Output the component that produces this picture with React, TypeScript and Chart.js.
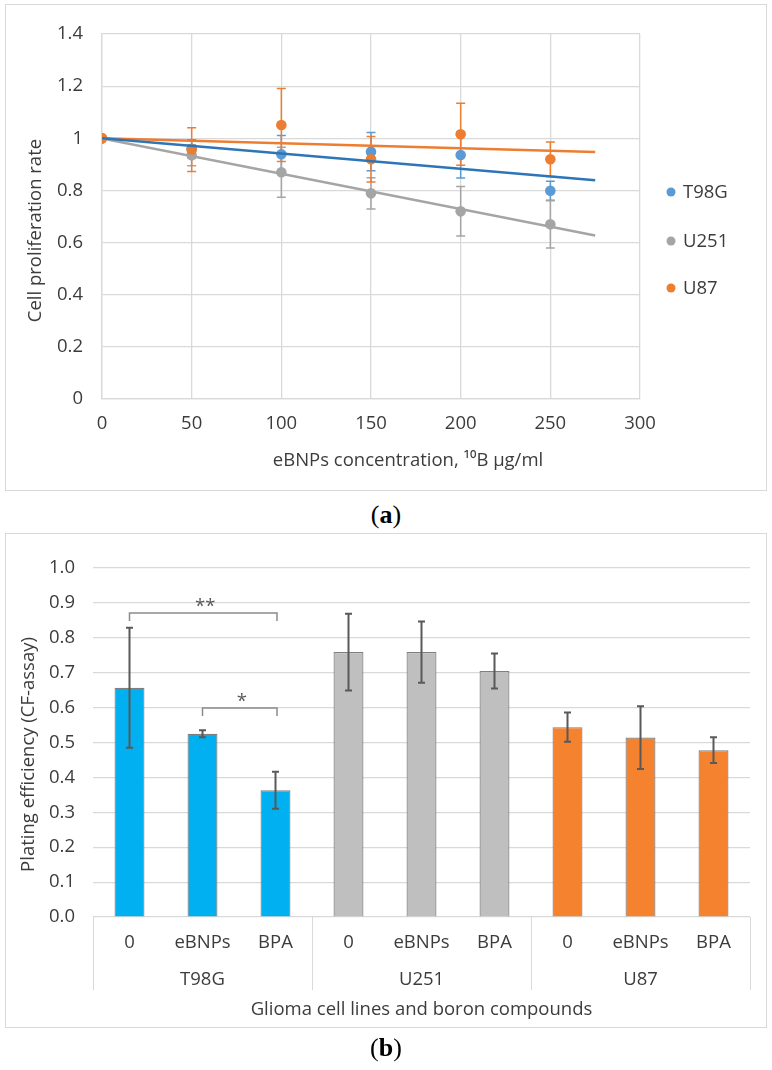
import React, { useEffect, useRef } from 'react';
import { Chart, registerables } from 'chart.js';

Chart.register(...registerables);

// ---------- Data: chart (a) ----------
const concentrations = [0, 50, 100, 150, 200, 250];
const cellLineNames = ['T98G', 'U251', 'U87'];
const t98gRate = [1.0, 0.96, 0.939, 0.949, 0.936, 0.799];
const u251Rate = [1.0, 0.935, 0.87, 0.789, 0.72, 0.67];
const u87Rate = [1.0, 0.957, 1.051, 0.92, 1.016, 0.92];
const t98gSd = [0, 0.035, 0.072, 0.073, 0.088, 0.036];
const u251Sd = [0, 0.04, 0.096, 0.06, 0.095, 0.091];
const u87Sd = [0, 0.084, 0.14, 0.087, 0.119, 0.066];
const trendX = [0, 275];
const t98gTrend = [1.0, 0.839];
const u251Trend = [1.0, 0.627];
const u87Trend = [1.0, 0.948];
const titleA_x = 'eBNPs concentration, ¹⁰B µg/ml';
const titleA_y = 'Cell proliferation rate';

// ---------- Data: chart (b) ----------
const treatments = ['0', 'eBNPs', 'BPA', '0', 'eBNPs', 'BPA', '0', 'eBNPs', 'BPA'];
const platingEfficiency = [0.657, 0.525, 0.363, 0.759, 0.759, 0.705, 0.544, 0.514, 0.478];
const platingSd = [0.172, 0.01, 0.053, 0.11, 0.088, 0.05, 0.042, 0.09, 0.037];
const significanceFrom = [0, 1];
const significanceTo = [2, 2];
const significanceLevel = [0.871, 0.599];
const significanceLabel = ['**', '*'];
const titleB_x = 'Glioma cell lines and boron compounds';
const titleB_y = 'Plating efficiency (CF-assay)';

// ---------- Styles ----------
const FONT = "'Open Sans', 'DejaVu Sans', sans-serif";
const TEXT = '#3C3C3C';
const GRID = '#D9D9D9';
const POINT_COLORS = ['#5B9BD5', '#A5A5A5', '#ED7D31'];
const TREND_COLORS = ['#2E75B6', '#A5A5A5', '#ED7D31'];
const BAR_COLORS = ['#00B0F0', '#BFBFBF', '#F5822F'];
const FS = 18.5;

Chart.defaults.font.family = FONT;
Chart.defaults.font.size = FS;
Chart.defaults.color = TEXT;

const rates = [t98gRate, u251Rate, u87Rate];
const sds = [t98gSd, u251Sd, u87Sd];
const trends = [t98gTrend, u251Trend, u87Trend];

const yTitle = (id: string, text: string, x: number, shift: number) => ({
  id,
  afterDraw(chart: any) {
    const { ctx, chartArea } = chart;
    ctx.save();
    ctx.font = `${FS}px ${FONT}`;
    ctx.fillStyle = TEXT;
    ctx.textAlign = 'center';
    ctx.textBaseline = 'middle';
    ctx.translate(x, (chartArea.top + chartArea.bottom) / 2 + shift);
    ctx.rotate(-Math.PI / 2);
    ctx.fillText(text, 0, 0);
    ctx.restore();
  },
});

const xTitleA = {
  id: 'xTitleA',
  afterDraw(chart: any) {
    const { ctx, chartArea } = chart;
    ctx.save();
    ctx.font = `${FS}px ${FONT}`;
    ctx.fillStyle = TEXT;
    ctx.textAlign = 'center';
    ctx.textBaseline = 'middle';
    ctx.fillText(titleA_x, (chartArea.left + chartArea.right) / 2 + 37, chartArea.bottom + 62);
    ctx.restore();
  },
};

const errorBarsA = {
  id: 'errorBarsA',
  beforeDatasetsDraw(chart: any) {
    const { ctx, scales } = chart;
    const xs = scales.x, ys = scales.y;
    ctx.save();
    ctx.lineWidth = 1.5;
    rates.forEach((r, i) => {
      ctx.strokeStyle = POINT_COLORS[i];
      concentrations.forEach((c, j) => {
        const e = sds[i][j];
        if (!e) return;
        const x = xs.getPixelForValue(c);
        const yt = ys.getPixelForValue(r[j] + e);
        const yb = ys.getPixelForValue(r[j] - e);
        ctx.beginPath();
        ctx.moveTo(x, yt); ctx.lineTo(x, yb);
        ctx.moveTo(x - 4.5, yt); ctx.lineTo(x + 4.5, yt);
        ctx.moveTo(x - 4.5, yb); ctx.lineTo(x + 4.5, yb);
        ctx.stroke();
      });
    });
    ctx.restore();
  },
};

const legendA = {
  id: 'legendA',
  afterDraw(chart: any) {
    const { ctx } = chart;
    ctx.save();
    ctx.font = `${FS}px ${FONT}`;
    ctx.textBaseline = 'middle';
    ctx.textAlign = 'left';
    const ys = [188, 237, 284];
    cellLineNames.forEach((n, i) => {
      ctx.fillStyle = POINT_COLORS[i];
      ctx.beginPath();
      ctx.arc(666, ys[i], 4.5, 0, Math.PI * 2);
      ctx.fill();
      ctx.fillStyle = TEXT;
      ctx.fillText(n, 678, ys[i] + 1);
    });
    ctx.restore();
  },
};

const errorBarsB = {
  id: 'errorBarsB',
  afterDatasetsDraw(chart: any) {
    const { ctx, scales } = chart;
    const meta = chart.getDatasetMeta(0);
    ctx.save();
    ctx.strokeStyle = '#595959';
    ctx.lineWidth = 2;
    platingEfficiency.forEach((v, i) => {
      const x = meta.data[i].x;
      const yt = scales.y.getPixelForValue(v + platingSd[i]);
      const yb = scales.y.getPixelForValue(v - platingSd[i]);
      ctx.beginPath();
      ctx.moveTo(x, yt); ctx.lineTo(x, yb);
      ctx.moveTo(x - 3.5, yt); ctx.lineTo(x + 3.5, yt);
      ctx.moveTo(x - 3.5, yb); ctx.lineTo(x + 3.5, yb);
      ctx.stroke();
    });
    // significance brackets
    ctx.strokeStyle = '#8C8C8C';
    ctx.lineWidth = 1.5;
    ctx.fillStyle = '#595959';
    ctx.font = `${FS}px ${FONT}`;
    ctx.textAlign = 'center';
    ctx.textBaseline = 'alphabetic';
    significanceFrom.forEach((a, k) => {
      const b = significanceTo[k];
      const x1 = meta.data[a].x;
      const x2 = meta.data[b].x + 1.5;
      const y = scales.y.getPixelForValue(significanceLevel[k]);
      ctx.beginPath();
      ctx.moveTo(x1, y + 8); ctx.lineTo(x1, y); ctx.lineTo(x2, y); ctx.lineTo(x2, y + 8);
      ctx.stroke();
      ctx.fillText(significanceLabel[k], (x1 + x2) / 2 + 2, y - 1);
    });
    ctx.restore();
  },
};

const separatorsB = {
  id: 'separatorsB',
  afterDraw(chart: any) {
    const { ctx, scales, chartArea } = chart;
    const xs = scales.x;
    const x2 = scales.x2;
    const n = treatments.length;
    const step = (xs.right - xs.left) / n;
    ctx.save();
    ctx.strokeStyle = GRID;
    ctx.lineWidth = 1;
    for (let i = 0; i <= n; i += 3) {
      const x = Math.round(xs.left + i * step) + 0.5;
      ctx.beginPath();
      ctx.moveTo(x, chartArea.bottom);
      ctx.lineTo(x, x2.top + 23);
      ctx.stroke();
    }
    ctx.restore();
  },
};

export default function App() {
  const refA = useRef<HTMLCanvasElement>(null);
  const refB = useRef<HTMLCanvasElement>(null);

  useEffect(() => {
    const chartA = new Chart(refA.current as HTMLCanvasElement, {
      type: 'scatter',
      data: {
        datasets: [
          ...rates.map((r, i) => ({
            type: 'scatter',
            label: cellLineNames[i],
            data: concentrations.map((x, j) => ({ x, y: r[j] })),
            backgroundColor: POINT_COLORS[i],
            borderColor: POINT_COLORS[i],
            pointRadius: 5.3,
            pointBorderWidth: 0,
            order: 4 - i,
          })),
          ...trends.map((t, i) => ({
            type: 'line',
            label: cellLineNames[i] + ' trend',
            data: trendX.map((x, j) => ({ x, y: t[j] })),
            borderColor: TREND_COLORS[i],
            backgroundColor: TREND_COLORS[i],
            borderWidth: 2.5,
            pointRadius: 0,
            fill: false,
            showLine: true,
            order: 0,
          })),
        ],
      } as any,
      options: {
        responsive: false,
        animation: false,
        layout: { padding: { left: 0, right: 127, top: 21, bottom: 10 } },
        plugins: { legend: { display: false }, tooltip: { enabled: false } },
        scales: {
          x: {
            type: 'linear',
            min: 0,
            max: 300,
            ticks: { stepSize: 50, padding: 13.9, color: TEXT },
            grid: { color: GRID, lineWidth: 1.3, drawTicks: false },
            border: { color: GRID, width: 1.3 },
            title: { display: false },
            afterFit: (s: any) => { s.height = 82; },
          },
          y: {
            type: 'linear',
            min: 0,
            max: 1.4,
            ticks: {
              stepSize: 0.2,
              padding: 19,
              color: TEXT,
              callback: (v: any) => String(Number(Number(v).toFixed(1))),
            },
            grid: { color: GRID, lineWidth: 1.3, drawTicks: false },
            border: { color: GRID, width: 1.3 },
            title: { display: false },
            afterFit: (s: any) => { s.width = 97; },
          },
        },
      } as any,
      plugins: [errorBarsA, legendA, xTitleA, yTitle('yTitleA', titleA_y, 31, 14)],
    });

    const chartB = new Chart(refB.current as HTMLCanvasElement, {
      type: 'bar',
      data: {
        labels: treatments,
        datasets: [
          {
            label: 'Plating efficiency',
            data: platingEfficiency,
            backgroundColor: treatments.map((_, i) => BAR_COLORS[Math.floor(i / 3)]),
            borderColor: '#7F7F7F',
            borderWidth: 1.2,
            barPercentage: 0.41,
            categoryPercentage: 1,
          },
        ],
      },
      options: {
        responsive: false,
        animation: false,
        layout: { padding: { left: 0, right: 17, top: 35, bottom: 4 } },
        plugins: { legend: { display: false }, tooltip: { enabled: false } },
        scales: {
          x: {
            type: 'category',
            offset: true,
            grid: { display: false, drawTicks: false },
            border: { display: false },
            ticks: { padding: 14.2, autoSkip: false, maxRotation: 0, color: TEXT },
            afterFit: (s: any) => { s.height = 50; },
          },
          x2: {
            type: 'category',
            labels: cellLineNames,
            position: 'bottom',
            weight: 1,
            offset: true,
            grid: { display: false, drawTicks: false },
            border: { display: false },
            ticks: { padding: 1.2, autoSkip: false, maxRotation: 0, color: TEXT },
            title: {
              display: true,
              text: titleB_x,
              color: TEXT,
              padding: { top: 0, bottom: 2.9 },
            },
            afterFit: (s: any) => { s.height = 57; },
          },
          y: {
            type: 'linear',
            min: 0,
            max: 1,
            ticks: {
              stepSize: 0.1,
              padding: 18,
              color: TEXT,
              callback: (v: any) => Number(v).toFixed(1),
            },
            grid: { color: GRID, lineWidth: 1.2, drawTicks: false },
            border: { display: false },
            title: { display: false },
            afterFit: (s: any) => { s.width = 88; },
          },
        },
      } as any,
      plugins: [errorBarsB, separatorsB, yTitle('yTitleB', titleB_y, 24, 12)],
    });

    return () => {
      chartA.destroy();
      chartB.destroy();
    };
  }, []);

  const caption: React.CSSProperties = {
    position: 'absolute',
    left: 0,
    width: 772,
    textAlign: 'center',
    fontFamily: "'Liberation Serif', 'DejaVu Serif', serif",
    fontSize: 26,
    lineHeight: '30px',
    color: '#000',
  };

  return (
    <div style={{ position: 'absolute', left: 0, top: 0, width: 772, height: 1070, background: '#fff' }}>
      <div style={{ position: 'absolute', left: 5, top: 4, width: 762, height: 487 }}>
        <canvas ref={refA} width={762} height={487} style={{ display: 'block' }} />
      </div>
      <div
        style={{
          position: 'absolute', left: 5, top: 4, width: 762, height: 487,
          border: '1.5px solid #D9D9D9', boxSizing: 'border-box', pointerEvents: 'none',
        }}
      />
      <div style={{ ...caption, top: 500 }}>
        (<b>a</b>)
      </div>
      <div style={{ position: 'absolute', left: 5, top: 533, width: 762, height: 495 }}>
        <canvas ref={refB} width={762} height={495} style={{ display: 'block' }} />
      </div>
      <div
        style={{
          position: 'absolute', left: 5, top: 533, width: 762, height: 495,
          border: '1.5px solid #D9D9D9', boxSizing: 'border-box', pointerEvents: 'none',
        }}
      />
      <div style={{ ...caption, top: 1033 }}>
        (<b>b</b>)
      </div>
    </div>
  );
}
